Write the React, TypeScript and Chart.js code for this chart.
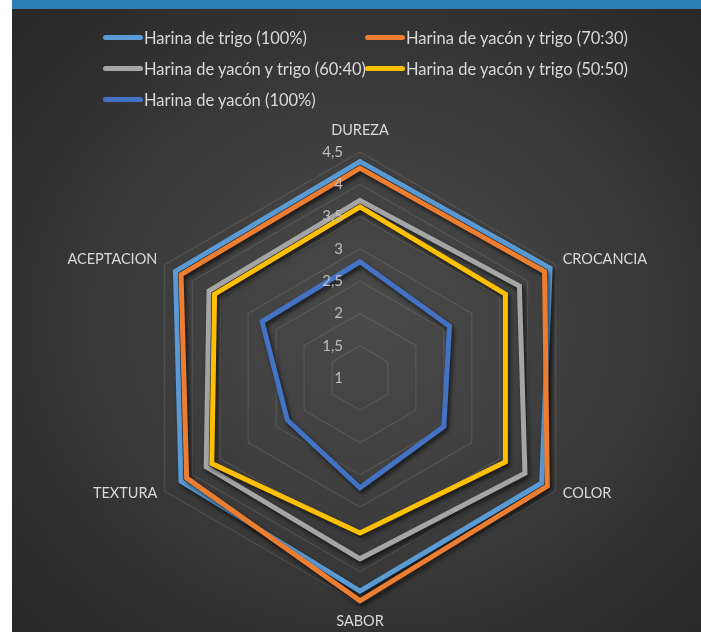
import React, { useEffect, useRef } from "react";
import { Chart, registerables } from "chart.js";

Chart.register(...registerables);

const categories = ["DUREZA", "CROCANCIA", "COLOR", "SABOR", "TEXTURA", "ACEPTACION"];
const seriesNames = [
  "Harina de trigo (100%)",
  "Harina de yacón y trigo (70:30)",
  "Harina de yacón y trigo (60:40)",
  "Harina de yacón y trigo (50:50)",
  "Harina de yacón (100%)",
];
const trigo100 = [4.35, 4.4, 4.25, 4.3, 4.2, 4.3];
const yaconTrigo7030 = [4.25, 4.3, 4.35, 4.45, 4.1, 4.2];
const yaconTrigo6040 = [3.75, 3.85, 3.95, 3.8, 3.75, 3.7];
const yaconTrigo5050 = [3.65, 3.6, 3.6, 3.4, 3.65, 3.6];
const yacon100 = [2.8, 2.6, 2.5, 2.7, 2.3, 2.75];
const seriesValues = [trigo100, yaconTrigo7030, yaconTrigo6040, yaconTrigo5050, yacon100];
const seriesColors = ["#5B9BD5", "#ED7D31", "#A5A5A5", "#FFC000", "#4472C4"];
const axisMin = 1;
const axisMax = 4.5;
const axisStep = 0.5;

const FONT = "Lato, 'Open Sans', sans-serif";

const shadowPlugin = {
  id: "lineShadow",
  beforeDatasetDraw(chart: any) {
    const ctx = chart.ctx;
    ctx.save();
    ctx.shadowColor = "rgba(0,0,0,0.65)";
    ctx.shadowBlur = 4;
    ctx.shadowOffsetX = 2;
    ctx.shadowOffsetY = 3;
  },
  afterDatasetDraw(chart: any) {
    chart.ctx.restore();
  },
};

const labelsPlugin = {
  id: "radarLabels",
  afterDraw(chart: any) {
    const scale = chart.scales.r;
    const ctx = chart.ctx;
    const R = scale.drawingArea;
    ctx.save();
    // tick labels
    ctx.font = `15px ${FONT}`;
    ctx.fillStyle = "#bdbdbd";
    ctx.textAlign = "right";
    ctx.textBaseline = "middle";
    scale.ticks.forEach((t: any) => {
      const d = scale.getDistanceFromCenterForValue(t.value);
      ctx.fillText(String(t.value).replace(".", ","), scale.xCenter - 17, scale.yCenter - d);
    });
    // point labels
    ctx.font = `14.5px ${FONT}`;
    ctx.fillStyle = "#d9d9d9";
    categories.forEach((label, i) => {
      const angle = scale.getIndexAngle(i);
      const s = Math.sin(angle);
      const c = Math.cos(angle);
      const p = scale.getPointPosition(i, R + 8);
      let x = p.x;
      let y = p.y;
      if (Math.abs(s) < 0.01) {
        ctx.textAlign = "center";
        y = c > 0 ? p.y - 14 : p.y + 9;
      } else {
        ctx.textAlign = s > 0 ? "left" : "right";
        y = p.y - 2;
      }
      ctx.textBaseline = "middle";
      ctx.fillText(label, x, y);
    });
    ctx.restore();
  },
};

export default function App() {
  const canvasRef = useRef<HTMLCanvasElement | null>(null);

  useEffect(() => {
    if (!canvasRef.current) return;
    const n = seriesValues.length;
    const chart = new Chart(canvasRef.current, {
      type: "radar",
      data: {
        labels: categories,
        datasets: seriesValues.map((vals, i) => ({
          label: seriesNames[i],
          data: vals,
          borderColor: seriesColors[i],
          backgroundColor: seriesColors[i],
          borderWidth: 5,
          borderJoinStyle: "miter",
          fill: false,
          pointRadius: 0,
          pointHoverRadius: 0,
          order: n - 1 - i,
        })),
      },
      options: {
        animation: false,
        responsive: true,
        maintainAspectRatio: false,
        layout: { padding: { top: 143, bottom: 28, left: 7, right: 0 } },
        plugins: { legend: { display: false }, tooltip: { enabled: false } },
        scales: {
          r: {
            min: axisMin,
            max: axisMax,
            beginAtZero: false,
            ticks: { display: false, stepSize: axisStep },
            grid: { color: "rgba(255,255,255,0.13)", lineWidth: 1 },
            angleLines: { display: false },
            pointLabels: { display: false },
          },
        },
      },
      plugins: [shadowPlugin, labelsPlugin],
    } as any);
    return () => chart.destroy();
  }, []);

  return (
    <div style={{ position: "fixed", left: 0, top: 0, width: 701, height: 632, background: "#ffffff" }}>
      <div style={{ position: "absolute", left: 12, top: 0, width: 689, height: 9, background: "#2A80B4" }} />
      <div
        style={{
          position: "absolute",
          left: 12,
          top: 9,
          width: 689,
          height: 623,
          background:
            "radial-gradient(ellipse 70% 70% at 52% 50%, #4a4a4a 0%, #3f3f3f 40%, #2f2f2f 80%, #282828 100%)",
        }}
      >
        <canvas ref={canvasRef} style={{ position: "absolute", left: 0, top: 0 }} />
        <div
          style={{
            position: "absolute",
            left: 91,
            top: 13,
            display: "grid",
            gridTemplateColumns: "262px auto",
            gridAutoRows: "31px",
            fontFamily: FONT,
            fontSize: 16.5,
            color: "#d9d9d9",
          }}
        >
          {seriesNames.map((name, i) => (
            <div key={name} style={{ display: "flex", alignItems: "center", whiteSpace: "nowrap" }}>
              <span
                style={{
                  display: "inline-block",
                  flex: "0 0 40px",
                  width: 40,
                  height: 5,
                  borderRadius: 3,
                  background: seriesColors[i],
                  marginRight: 1,
                }}
              />
              {name}
            </div>
          ))}
        </div>
      </div>
    </div>
  );
}
